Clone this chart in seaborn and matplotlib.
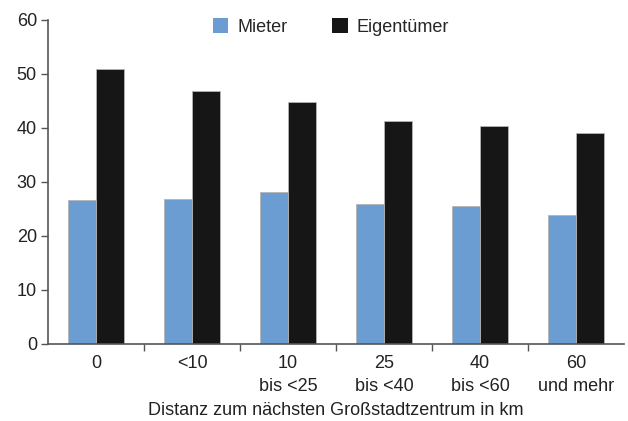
import matplotlib
matplotlib.use("Agg")
import matplotlib.pyplot as plt
import seaborn as sns
import pandas as pd
import numpy as np

categories = ["0", "<10", "10\nbis <25", "25\nbis <40", "40\nbis <60", "60\nund mehr"]
mieter = [26.6, 26.8, 28.1, 25.9, 25.6, 23.9]
eigentuemer = [51.0, 46.9, 44.8, 41.3, 40.4, 39.0]
series_names = ["Mieter", "Eigentümer"]
colors = ["#6b9dd2", "#161616"]

df = pd.DataFrame({
    "Kategorie": categories * 2,
    "Wert": mieter + eigentuemer,
    "Gruppe": [series_names[0]] * len(categories) + [series_names[1]] * len(categories),
})

sns.set_theme(style="white")
plt.rcParams["font.family"] = ["Liberation Sans", "DejaVu Sans"]

fig = plt.figure(figsize=(6.28, 4.21), dpi=100)
ax = fig.add_axes([48 / 628, 1 - 344 / 421, 576 / 628, 324 / 421])

sns.barplot(data=df, x="Kategorie", y="Wert", hue="Gruppe", order=categories,
            hue_order=series_names, palette=colors, width=0.573, gap=0,
            saturation=1, edgecolor="#b5b5b5", linewidth=0.6, ax=ax, legend=True)

ax.set_xlim(-0.5, len(categories) - 0.5)
ax.set_ylim(0, 60)
ax.set_yticks(np.arange(0, 61, 10))
ax.tick_params(axis="y", labelsize=13, length=5, width=1, color="#555555",
               direction="out", left=True, pad=3, labelcolor="#222222")
ax.set_xticks(range(len(categories)))
ax.set_xticklabels(categories, fontsize=13, color="#222222", linespacing=1.45)
ax.tick_params(axis="x", which="major", length=0, pad=8)
ax.set_xticks(np.arange(0.5, len(categories) - 0.5, 1), minor=True)
ax.tick_params(axis="x", which="minor", length=5, width=1, color="#555555",
               direction="out", bottom=True)

for s in ["top", "right"]:
    ax.spines[s].set_visible(False)
for s in ["left", "bottom"]:
    ax.spines[s].set_color("#555555")
    ax.spines[s].set_linewidth(1.2)

ax.set_ylabel("")
ax.set_xlabel("Distanz zum nächsten Großstadtzentrum in km", fontsize=13,
              color="#222222", labelpad=5)

handles, labels = ax.get_legend_handles_labels()
ax.legend(handles, labels, loc="center", bbox_to_anchor=(331 / 628, 1 - 27 / 421),
          bbox_transform=fig.transFigure, ncol=2, frameon=False, fontsize=13,
          handlelength=0.85, handleheight=0.85, handletextpad=0.5,
          columnspacing=2.5)
for h in ax.get_legend().legend_handles:
    h.set_edgecolor("none")

fig.savefig("out.png", dpi=100)
